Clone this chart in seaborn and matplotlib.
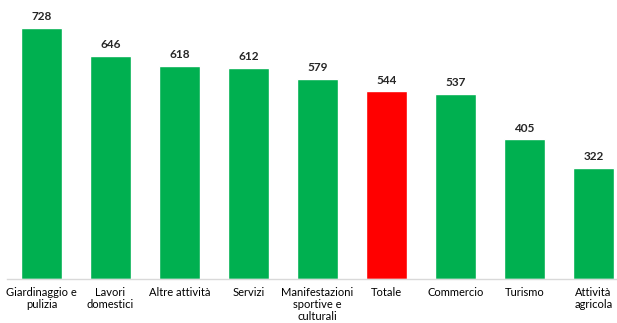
import seaborn as sns
import pandas as pd
import matplotlib.pyplot as plt
from matplotlib.ticker import FixedLocator

# settori e valori
settori = ["Giardinaggio e\npulizia", "Lavori\ndomestici", "Altre attività", "Servizi",
           "Manifestazioni\nsportive e\nculturali", "Totale", "Commercio", "Turismo",
           "Attività\nagricola"]
valori = [728, 646, 618, 612, 579, 544, 537, 405, 322]
colori = ["#00B050", "#00B050", "#00B050", "#00B050", "#00B050", "#FF0000",
          "#00B050", "#00B050", "#00B050"]

df = pd.DataFrame({"settore": settori, "valore": valori})

sns.set_style("white")
plt.rcParams["font.family"] = ["Lato", "DejaVu Sans"]

fig = plt.figure(figsize=(6.17, 3.23), dpi=100)
ax = fig.add_axes([7 / 617, 44 / 323, 621 / 617, 278 / 323])

sns.barplot(x="settore", y="valore", data=df, hue="settore", palette=colori,
            width=0.6, saturation=1, legend=False, ax=ax)

for i, v in enumerate(valori):
    ax.annotate(str(v), (i, v), xytext=(0, 4), textcoords="offset points",
                ha="center", va="bottom", fontsize=8.5, fontweight="bold", color="#262626")

ax.set_xlim(-0.5, 8.5)
ax.set_ylim(0, 805)
ax.set_xlabel("")
ax.set_ylabel("")
ax.set_yticks([])
for s in ["top", "right", "left"]:
    ax.spines[s].set_visible(False)
ax.spines["bottom"].set_color("#D9D9D9")
ax.spines["bottom"].set_linewidth(1)

ax.tick_params(axis="x", which="major", length=0, pad=6, labelsize=8, labelcolor="#000000")
ax.xaxis.set_minor_locator(FixedLocator([i - 0.5 for i in range(10)]))
ax.tick_params(axis="x", which="minor", length=4, color="#D9D9D9", direction="out")
for t in ax.get_xticklabels():
    t.set_va("top")
    t.set_ha("center")
    t.set_linespacing(1.1)

fig.savefig("out.png", dpi=100)
